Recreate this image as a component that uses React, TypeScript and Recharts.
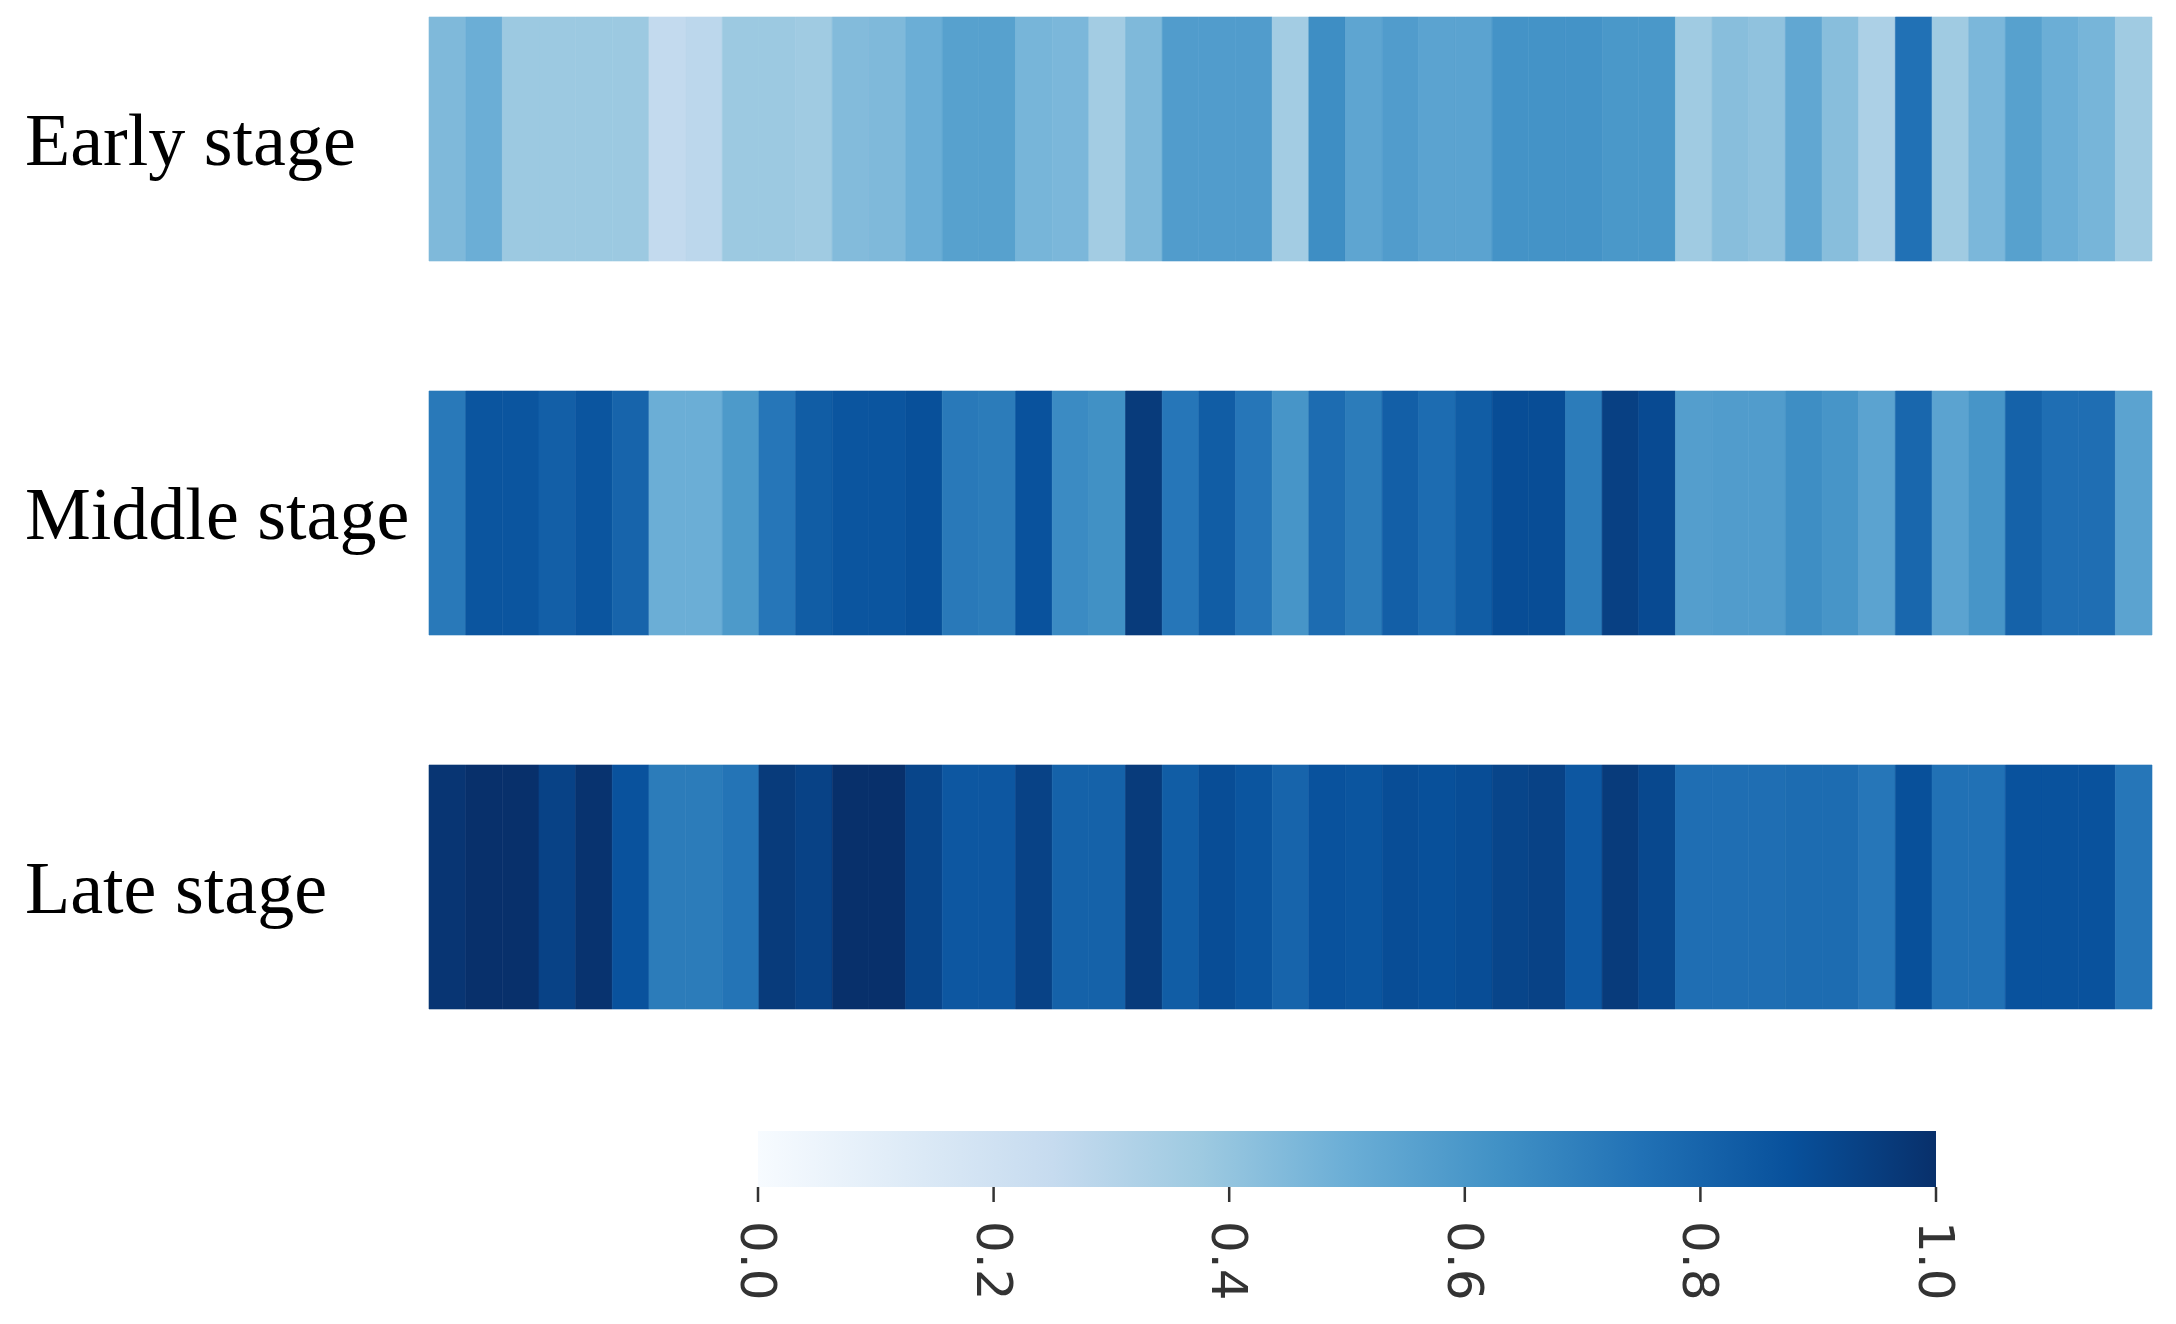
import React from 'react';
import { BarChart, Bar, XAxis, YAxis, Cell } from 'recharts';

// rows of the heatmap (one value per column, 0..1)
const stages = ['Early stage', 'Middle stage', 'Late stage'];

const early = [
  0.45, 0.50, 0.38, 0.38, 0.38, 0.38, 0.26, 0.28, 0.38, 0.38, 0.37, 0.44, 0.45, 0.50, 0.56, 0.56,
  0.47, 0.46, 0.36, 0.45, 0.58, 0.58, 0.58, 0.36, 0.64, 0.54, 0.58, 0.55, 0.55, 0.62, 0.62, 0.62,
  0.60, 0.60, 0.37, 0.43, 0.41, 0.53, 0.43, 0.33, 0.75, 0.37, 0.46, 0.56, 0.50, 0.47, 0.37,
];

const middle = [
  0.72, 0.86, 0.86, 0.82, 0.86, 0.80, 0.50, 0.50, 0.59, 0.73, 0.83, 0.86, 0.86, 0.88, 0.72, 0.71,
  0.87, 0.65, 0.63, 0.96, 0.73, 0.83, 0.73, 0.61, 0.77, 0.71, 0.82, 0.77, 0.83, 0.89, 0.89, 0.71,
  0.94, 0.90, 0.57, 0.58, 0.58, 0.64, 0.61, 0.55, 0.79, 0.55, 0.61, 0.81, 0.76, 0.76, 0.55,
];

const late = [
  0.98, 1.0, 1.0, 0.93, 0.99, 0.87, 0.71, 0.71, 0.74, 0.96, 0.93, 1.0, 1.0, 0.92, 0.85, 0.85,
  0.93, 0.81, 0.81, 0.96, 0.83, 0.89, 0.86, 0.80, 0.87, 0.86, 0.89, 0.88, 0.89, 0.92, 0.93, 0.85,
  0.96, 0.91, 0.76, 0.76, 0.76, 0.77, 0.77, 0.73, 0.88, 0.75, 0.75, 0.87, 0.87, 0.87, 0.73,
];

const rows = [early, middle, late];
const colorbarTicks = [0, 0.2, 0.4, 0.6, 0.8, 1.0];

// matplotlib "Blues"
const BLUES = ['#f7fbff', '#deebf7', '#c6dbef', '#9ecae1', '#6baed6', '#4292c6', '#2171b5', '#08519c', '#08306b'];

const hexToRgb = (h: string) => [1, 3, 5].map((i) => parseInt(h.slice(i, i + 2), 16));

const blues = (t: number) => {
  const s = Math.min(1, Math.max(0, t)) * 8;
  const i = Math.min(7, Math.floor(s));
  const f = s - i;
  const a = hexToRgb(BLUES[i]);
  const b = hexToRgb(BLUES[i + 1]);
  const c = a.map((v, k) => Math.round(v + (b[k] - v) * f));
  return `rgb(${c[0]},${c[1]},${c[2]})`;
};

const columns = early.map((_, i) => `c${i}`);

const heatData = stages.map((stage) => {
  const row: Record<string, any> = { stage };
  columns.forEach((key) => {
    row[key] = 1;
  });
  return row;
});

const StageTick = ({ y, payload }: any) => (
  <text
    x={25}
    y={y}
    dy="0.35em"
    textAnchor="start"
    fontFamily="'Liberation Serif', 'Times New Roman', serif"
    fontSize={74}
    fill="#000"
  >
    {payload.value}
  </text>
);

const ColorbarTick = ({ x, y, payload }: any) => (
  <g transform={`translate(${x},${y})`}>
    <text
      transform="rotate(90)"
      x={0}
      y={0}
      textAnchor="start"
      dominantBaseline="central"
      fontFamily="'DejaVu Sans', sans-serif"
      fontSize={50}
      fill="#333"
    >
      {Number(payload.value).toFixed(1)}
    </text>
  </g>
);

const App: React.FC = () => {
  return (
    <div
      style={{
        position: 'absolute',
        left: 0,
        top: 0,
        width: 2176,
        height: 1324,
        background: '#fff',
        overflow: 'hidden',
      }}
    >
      {/* heatmap strips */}
      <div style={{ position: 'absolute', left: 0, top: -48 }}>
        <BarChart
          width={2176}
          height={1122}
          data={heatData}
          layout="vertical"
          margin={{ top: 0, right: 24, bottom: 0, left: 0 }}
          barSize={244}
        >
          <XAxis type="number" domain={[0, columns.length]} hide />
          <YAxis
            type="category"
            dataKey="stage"
            width={429}
            axisLine={false}
            tickLine={false}
            tick={<StageTick />}
          />
          {columns.map((key, i) => (
            <Bar key={key} dataKey={key} stackId="s" isAnimationActive={false}>
              {rows.map((vals, r) => (
                <Cell key={r} fill={blues(vals[i])} stroke={blues(vals[i])} strokeWidth={0.6} />
              ))}
            </Bar>
          ))}
        </BarChart>
      </div>

      {/* colorbar */}
      <div style={{ position: 'absolute', left: 700, top: 1125 }}>
        <BarChart
          width={1300}
          height={199}
          data={[{ name: 'scale', v: 1 }]}
          layout="vertical"
          margin={{ top: 6, right: 64, bottom: 0, left: 58 }}
          barCategoryGap={0}
        >
          <defs>
            <linearGradient id="bluesGrad" x1="0" y1="0" x2="1" y2="0">
              {BLUES.map((c, i) => (
                <stop key={c} offset={`${i * 12.5}%`} stopColor={c} />
              ))}
            </linearGradient>
          </defs>
          <XAxis
            type="number"
            domain={[0, 1]}
            ticks={colorbarTicks}
            interval={0}
            axisLine={false}
            tickSize={15}
            tickMargin={19}
            tickLine={{ stroke: '#333', strokeWidth: 2.5 }}
            tick={<ColorbarTick />}
            height={137}
          />
          <YAxis type="category" dataKey="name" hide />
          <Bar dataKey="v" fill="url(#bluesGrad)" isAnimationActive={false} />
        </BarChart>
      </div>
    </div>
  );
};

export default App;
